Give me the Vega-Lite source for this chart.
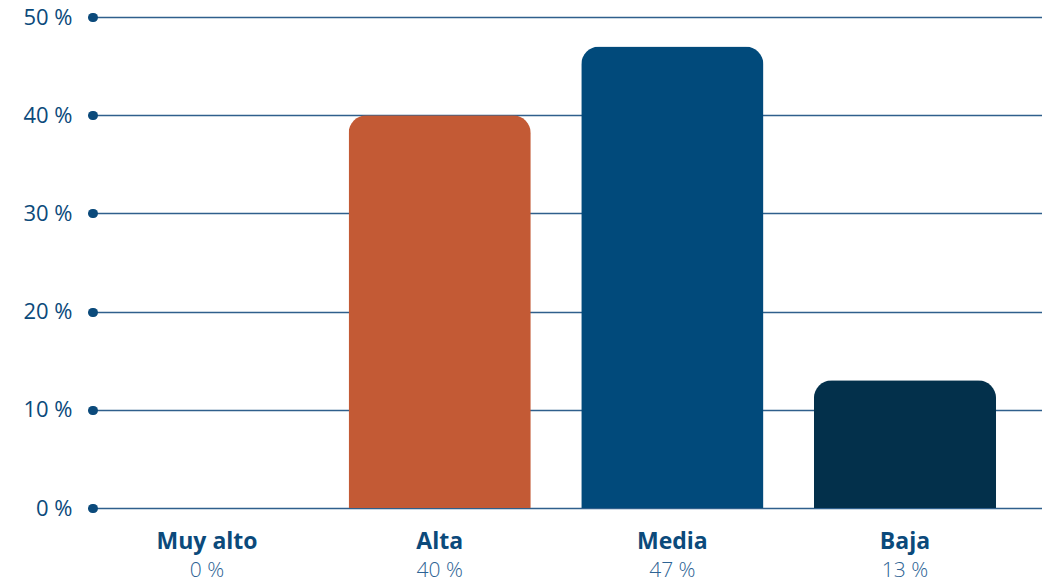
{
  "$schema": "https://vega.github.io/schema/vega-lite/v6.json",
  "width": 949,
  "height": 491,
  "autosize": "none",
  "padding": {"left": 93, "top": 17, "right": 0, "bottom": 77},
  "background": "white",
  "config": {"view": {"stroke": null}, "font": "Open Sans"},
  "data": {"values": [
    {"category": "Muy alto", "value": 0},
    {"category": "Alta", "value": 40},
    {"category": "Media", "value": 47},
    {"category": "Baja", "value": 13}
  ]},
  "transform": [{"calculate": "datum.value + ' %'", "as": "label"}],
  "encoding": {
    "x": {
      "field": "category", "type": "nominal", "sort": null,
      "scale": {"paddingInner": 0.217, "paddingOuter": 0.148, "align": 0.333},
      "axis": {
        "title": null, "labelAngle": 0, "domain": false, "ticks": false,
        "labelPadding": 22, "labelFontSize": 23, "labelFontWeight": "bold",
        "labelColor": "#0b4a7b", "labelFont": "Open Sans"
      }
    }
  },
  "layer": [
    {
      "mark": {"type": "bar", "cornerRadiusTopLeft": 18, "cornerRadiusTopRight": 18},
      "encoding": {
        "y": {
          "field": "value", "type": "quantitative",
          "scale": {"domain": [0, 50], "nice": false},
          "axis": {
            "title": null, "values": [0, 10, 20, 30, 40, 50], "domain": false,
            "grid": true, "gridColor": "#2f5f8c", "gridWidth": 1.5,
            "ticks": true, "tickSize": 1, "tickWidth": 9, "tickCap": "round", "tickColor": "#0b4a7b",
            "labelExpr": "datum.value + ' %'", "labelPadding": 20,
            "labelFontSize": 22, "labelColor": "#0b4a7b", "labelFont": "Open Sans"
          }
        },
        "color": {
          "field": "category", "type": "nominal", "legend": null,
          "scale": {"domain": ["Muy alto", "Alta", "Media", "Baja"], "range": ["#0b4a7b", "#c35a35", "#014a7b", "#03304b"]}
        }
      }
    },
    {
      "mark": {"type": "text", "dy": 63, "fontSize": 21, "fontWeight": 300, "color": "#2d6394", "baseline": "middle", "font": "Open Sans"},
      "encoding": {
        "y": {"datum": 0, "type": "quantitative"},
        "text": {"field": "label"}
      }
    }
  ]
}
